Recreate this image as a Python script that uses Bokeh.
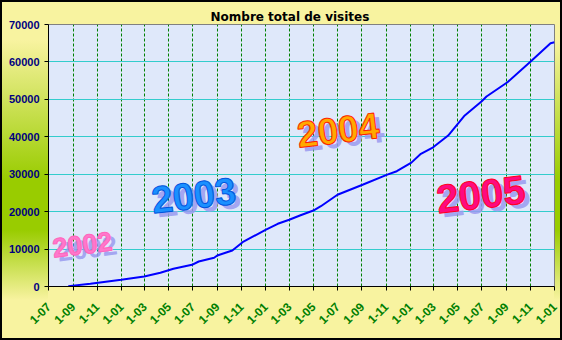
import math
import pandas as pd
from bokeh.plotting import figure
from bokeh.models import FixedTicker, Label, Range1d, NumeralTickFormatter
from bokeh.embed import file_html
from bokeh.resources import INLINE

# ---- data ----
visit_dates = ["2002-08-20", "2002-10-15", "2003-01-01", "2003-02-28", "2003-04-10",
               "2003-05-13", "2003-06-29", "2003-07-16", "2003-08-24", "2003-09-01",
               "2003-10-09", "2003-11-04", "2004-01-01", "2004-02-01", "2004-03-01",
               "2004-03-28", "2004-05-01", "2004-05-20", "2004-07-01", "2004-09-04",
               "2004-11-04", "2004-11-28", "2005-01-04", "2005-01-28", "2005-02-28",
               "2005-04-07", "2005-05-19", "2005-07-01", "2005-07-13", "2005-09-04",
               "2005-11-01", "2005-12-22", "2006-01-01"]
visit_totals = [100, 720, 1790, 2670, 3660,
                4730, 5800, 6680, 7670, 8280,
                9620, 11840, 15150, 16750, 17820,
                18970, 20300, 21450, 24500, 27250,
                29900, 30800, 33100, 35450, 37200,
                40340, 45700, 49500, 50760, 54580,
                60030, 65000, 65270]

tick_dates = ["2002-07-01", "2002-09-01", "2002-11-01", "2003-01-01", "2003-03-01",
              "2003-05-01", "2003-07-01", "2003-09-01", "2003-11-01", "2004-01-01",
              "2004-03-01", "2004-05-01", "2004-07-01", "2004-09-01", "2004-11-01",
              "2005-01-01", "2005-03-01", "2005-05-01", "2005-07-01", "2005-09-01",
              "2005-11-01", "2006-01-01"]
tick_labels = ["1-07", "1-09", "1-11", "1-01", "1-03", "1-05", "1-07", "1-09", "1-11",
               "1-01", "1-03", "1-05", "1-07", "1-09", "1-11", "1-01", "1-03", "1-05",
               "1-07", "1-09", "1-11", "1-01"]
y_ticks = [0, 10000, 20000, 30000, 40000, 50000, 60000, 70000]

year_labels = ["2002", "2003", "2004", "2005"]
year_label_dates = ["2002-07-14", "2003-03-23", "2004-03-25", "2005-03-13"]
year_label_values = [7750, 19500, 37100, 19500]

title_text = "Nombre total de visites"


def ms(d):
    return int(pd.Timestamp(d).value // 10**6)


tick_ms = [ms(d) for d in tick_dates]

p = figure(width=562, height=340, x_axis_type="datetime",
           output_backend="svg", toolbar_location=None,
           x_range=Range1d(tick_ms[0], tick_ms[-1]), y_range=Range1d(y_ticks[0], y_ticks[-1]),
           min_border_left=48, min_border_right=8, min_border_top=24, min_border_bottom=54)

# chart-area fill: pale yellow with yellow-green gradient strips left and right
YEL = "#f8f3a0"
GRN = "#99cc00"
grad = (f"linear-gradient(to bottom, {YEL} 0px, {YEL} 40px, {GRN} 180px, "
        f"{GRN} 230px, {YEL} 300px, {YEL} 340px)")
p.styles = {
    "background": f"{grad} left top / 48px 100% no-repeat, "
                  f"{grad} right top / 8px 100% no-repeat, {YEL}",
    "box-shadow": "inset 0 0 0 2px black",
}
p.border_fill_alpha = 0
p.background_fill_color = "#dfe8fa"
p.outline_line_color = "#808080"
p.outline_line_width = 1

# title
p.title.text = title_text
p.title.text_font = "DejaVu Sans"
p.title.text_font_size = "12px"
p.title.text_font_style = "bold"
p.title.text_color = "black"
p.title.align = "left"
p.title.offset = 162
p.title.standoff = 2

# axes
p.xaxis.ticker = FixedTicker(ticks=tick_ms)
p.xaxis.major_label_overrides = {t: l for t, l in zip(tick_ms, tick_labels)}
p.xaxis.major_label_orientation = math.pi / 4
p.xaxis.major_label_text_color = "#008000"
p.xaxis.major_label_text_font = "Liberation Sans"
p.xaxis.major_label_text_font_size = "12px"
p.xaxis.major_label_text_font_style = "bold"
p.xaxis.major_label_standoff = 14

p.yaxis.ticker = FixedTicker(ticks=y_ticks)
p.yaxis.formatter = NumeralTickFormatter(format="0")
p.yaxis.major_label_text_color = "#000080"
p.yaxis.major_label_text_font = "Liberation Sans"
p.yaxis.major_label_text_font_size = "11px"
p.yaxis.major_label_text_font_style = "bold"
p.yaxis.major_label_standoff = 5

for ax in (p.xaxis, p.yaxis):
    ax.axis_line_color = "black"
    ax.axis_line_width = 1
    ax.major_tick_line_color = "black"
    ax.major_tick_out = 4
    ax.major_tick_in = 0
    ax.minor_tick_line_color = None

# grids
p.ygrid.grid_line_color = "#33cccc"
p.ygrid.grid_line_width = 1
p.xgrid.grid_line_color = "#008000"
p.xgrid.grid_line_dash = "3 2"
p.xgrid.grid_line_width = 1

# data line
p.line(x=pd.to_datetime(visit_dates), y=visit_totals, line_color="#0000ff", line_width=2)

# year labels (WordArt-like)
year_styles = [
    dict(size="27px", fill="#ff77cc", outline="#ff66bb"),
    dict(size="38px", fill="#1a90ff", outline="#0055dd"),
    dict(size="37px", fill="#ffaa00", outline="#ff2200"),
    dict(size="40px", fill="#ff0a80", outline="#ff0022"),
]
font_stack = "'Liberation Sans', sans-serif"
for txt, d, v, st in zip(year_labels, year_label_dates, year_label_values, year_styles):
    xm = ms(d)
    p.add_layout(Label(x=xm, y=v, text=txt, angle=0.12, x_offset=5, y_offset=-4,
                       text_font=font_stack, text_font_size=st["size"], text_font_style="bold",
                       text_color="#9a9af0", text_alpha=0.85))
    p.add_layout(Label(x=xm, y=v, text=txt, angle=0.12,
                       text_font=font_stack, text_font_size=st["size"], text_font_style="bold",
                       text_color=st["fill"], text_outline_color=st["outline"]))

open("out.html", "w").write(file_html(p, INLINE))
